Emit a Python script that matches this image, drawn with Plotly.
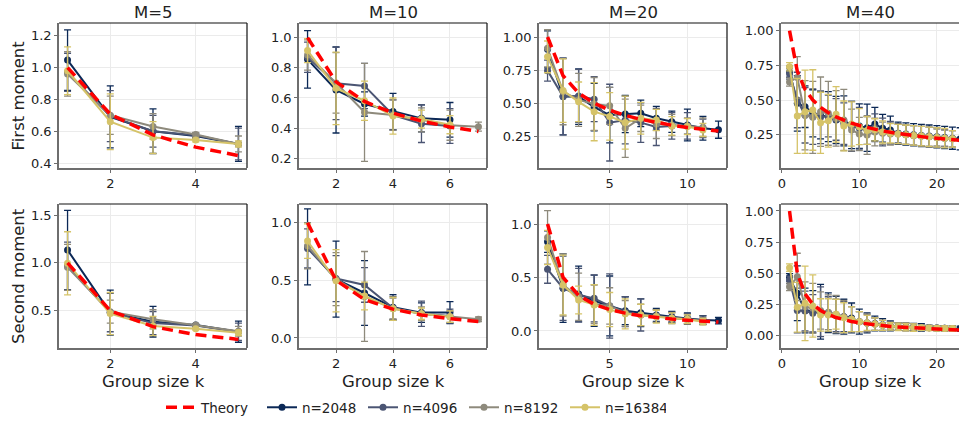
import plotly.graph_objects as go

# ---------------- data ----------------
series_names = ["n=2048", "n=4096", "n=8192", "n=16384"]
series_colors = ["#0b2856", "#4b5573", "#8e8a7c", "#d5c368"]
theory_color = "#ff0000"

# M = 5
k_M5 = [1, 2, 3, 4, 5]
theory1_M5 = [1.0, 0.707, 0.577, 0.5, 0.447]
theory2_M5 = [1.0, 0.5, 0.333, 0.25, 0.2]
first_M5_2048 = [1.047, 0.69, 0.60, 0.57, 0.52]
first_M5_2048_err = [0.19, 0.195, 0.14, 0.015, 0.11]
first_M5_4096 = [0.97, 0.695, 0.60, 0.575, 0.52]
first_M5_4096_err = [0.12, 0.16, 0.10, 0.015, 0.10]
first_M5_8192 = [0.96, 0.70, 0.63, 0.58, 0.52]
first_M5_8192_err = [0.14, 0.12, 0.08, 0.012, 0.05]
first_M5_16384 = [0.98, 0.66, 0.56, 0.545, 0.52]
first_M5_16384_err = [0.15, 0.175, 0.10, 0.012, 0.02]
second_M5_2048 = [1.134, 0.48, 0.385, 0.35, 0.28]
second_M5_2048_err = [0.415, 0.235, 0.16, 0.01, 0.11]
second_M5_4096 = [0.967, 0.48, 0.37, 0.345, 0.28]
second_M5_4096_err = [0.25, 0.20, 0.12, 0.01, 0.09]
second_M5_8192 = [0.953, 0.49, 0.41, 0.35, 0.285]
second_M5_8192_err = [0.24, 0.12, 0.10, 0.01, 0.05]
second_M5_16384 = [0.995, 0.47, 0.34, 0.31, 0.27]
second_M5_16384_err = [0.33, 0.22, 0.10, 0.01, 0.03]

# M = 10
k_M10 = [1, 2, 3, 4, 5, 6, 7]
theory1_M10 = [1.0, 0.707, 0.577, 0.5, 0.447, 0.408, 0.378]
theory2_M10 = [1.0, 0.5, 0.333, 0.25, 0.2, 0.167, 0.143]
first_M10_2048 = [0.856, 0.653, 0.56, 0.51, 0.465, 0.455]
first_M10_2048_err = [0.19, 0.285, 0.08, 0.12, 0.09, 0.115]
first_M10_4096 = [0.87, 0.697, 0.68, 0.487, 0.43, 0.414]
first_M10_4096_err = [0.10, 0.24, 0.15, 0.10, 0.125, 0.115]
first_M10_8192 = [0.885, 0.70, 0.505, 0.487, 0.455, 0.42, 0.41]
first_M10_8192_err = [0.10, 0.20, 0.325, 0.10, 0.08, 0.10, 0.03]
first_M10_16384 = [0.914, 0.664, 0.582, 0.48, 0.46, 0.423]
first_M10_16384_err = [0.08, 0.24, 0.13, 0.12, 0.06, 0.06]
second_M10_2048 = [0.79, 0.51, 0.39, 0.266, 0.22, 0.22]
second_M10_2048_err = [0.33, 0.33, 0.28, 0.11, 0.085, 0.095]
second_M10_4096 = [0.777, 0.515, 0.46, 0.26, 0.21, 0.19]
second_M10_4096_err = [0.17, 0.20, 0.15, 0.10, 0.11, 0.06]
second_M10_8192 = [0.80, 0.51, 0.36, 0.255, 0.21, 0.185, 0.162]
second_M10_8192_err = [0.20, 0.23, 0.39, 0.09, 0.06, 0.05, 0.02]
second_M10_16384 = [0.84, 0.497, 0.364, 0.253, 0.21, 0.185]
second_M10_16384_err = [0.15, 0.27, 0.12, 0.10, 0.05, 0.05]

# M = 20
k_M20 = [1, 2, 3, 4, 5, 6, 7, 8, 9, 10, 11, 12]
theory1_M20 = [1.0, 0.707, 0.577, 0.5, 0.447, 0.408, 0.378, 0.354, 0.333, 0.316, 0.302, 0.289]
theory2_M20 = [1.0, 0.5, 0.333, 0.25, 0.2, 0.167, 0.143, 0.125, 0.111, 0.1, 0.091, 0.083]
first_M20_2048 = [0.907, 0.55, 0.55, 0.47, 0.41, 0.418, 0.423, 0.386, 0.36, 0.335, 0.31, 0.30]
first_M20_2048_err = [0.14, 0.29, 0.21, 0.18, 0.21, 0.14, 0.10, 0.09, 0.08, 0.12, 0.09, 0.065]
first_M20_4096 = [0.746, 0.55, 0.555, 0.53, 0.353, 0.373, 0.353, 0.32, 0.328, 0.328, 0.31]
first_M20_4096_err = [0.08, 0.29, 0.20, 0.17, 0.29, 0.18, 0.15, 0.14, 0.10, 0.10, 0.07]
first_M20_8192 = [0.915, 0.587, 0.525, 0.494, 0.48, 0.31, 0.386, 0.343, 0.335, 0.328, 0.318]
first_M20_8192_err = [0.14, 0.25, 0.20, 0.20, 0.14, 0.22, 0.10, 0.11, 0.08, 0.06, 0.07]
first_M20_16384 = [0.85, 0.595, 0.51, 0.436, 0.40, 0.353, 0.386, 0.373, 0.328, 0.323, 0.298]
first_M20_16384_err = [0.12, 0.24, 0.15, 0.22, 0.18, 0.20, 0.12, 0.08, 0.07, 0.06, 0.05]
second_M20_2048 = [0.835, 0.40, 0.346, 0.283, 0.234, 0.19, 0.17, 0.15, 0.134, 0.118, 0.103, 0.097]
second_M20_2048_err = [0.10, 0.32, 0.26, 0.24, 0.28, 0.13, 0.13, 0.06, 0.05, 0.05, 0.04, 0.03]
second_M20_4096 = [0.576, 0.40, 0.336, 0.305, 0.234, 0.18, 0.15, 0.14, 0.125, 0.112, 0.10]
second_M20_4096_err = [0.13, 0.30, 0.25, 0.22, 0.30, 0.14, 0.15, 0.06, 0.05, 0.05, 0.04]
second_M20_8192 = [0.875, 0.43, 0.32, 0.25, 0.234, 0.165, 0.15, 0.14, 0.12, 0.11, 0.095]
second_M20_8192_err = [0.25, 0.29, 0.22, 0.18, 0.17, 0.12, 0.10, 0.06, 0.05, 0.04, 0.03]
second_M20_16384 = [0.78, 0.43, 0.29, 0.243, 0.20, 0.16, 0.15, 0.134, 0.12, 0.11, 0.087]
second_M20_16384_err = [0.16, 0.28, 0.13, 0.19, 0.16, 0.14, 0.10, 0.06, 0.05, 0.04, 0.03]

# M = 40
k_M40 = [1, 2, 3, 4, 5, 6, 7, 8, 9, 10, 11, 12, 13, 14, 15, 16, 17, 18, 19, 20, 21, 22, 23]
theory1_M40 = [1.0, 0.707, 0.577, 0.5, 0.447, 0.408, 0.378, 0.354, 0.333, 0.316, 0.302, 0.289,
               0.277, 0.267, 0.258, 0.25, 0.243, 0.236, 0.229, 0.224, 0.218, 0.213, 0.209]
theory2_M40 = [1.0, 0.5, 0.333, 0.25, 0.2, 0.167, 0.143, 0.125, 0.111, 0.1, 0.091, 0.083,
               0.077, 0.071, 0.067, 0.063, 0.059, 0.056, 0.053, 0.05, 0.048, 0.045, 0.043]
first_M40_2048 = [0.704, 0.476, 0.452, 0.404, 0.39, 0.38, 0.356, 0.35, 0.32, 0.312, 0.30, 0.327,
                  0.296, 0.284, 0.26, 0.255, 0.25, 0.245, 0.24, 0.235, 0.23, 0.225, 0.22]
first_M40_2048_err = [0.04, 0.20, 0.15, 0.17, 0.17, 0.18, 0.17, 0.18, 0.17, 0.16, 0.17, 0.12,
                      0.10, 0.10, 0.08, 0.08, 0.08, 0.08, 0.08, 0.08, 0.08, 0.08, 0.08]
first_M40_4096 = [0.69, 0.50, 0.39, 0.38, 0.375, 0.385, 0.36, 0.33, 0.31, 0.296, 0.28, 0.30,
                  0.27, 0.265, 0.26, 0.25, 0.245, 0.24, 0.235, 0.23, 0.225, 0.22]
first_M40_4096_err = [0.04, 0.20, 0.20, 0.20, 0.19, 0.15, 0.15, 0.15, 0.18, 0.15, 0.10, 0.10,
                      0.10, 0.08, 0.07, 0.07, 0.07, 0.07, 0.07, 0.07, 0.06, 0.06]
first_M40_8192 = [0.63, 0.663, 0.39, 0.375, 0.416, 0.404, 0.368, 0.356, 0.284, 0.255, 0.248, 0.27,
                  0.26, 0.255, 0.255, 0.25, 0.245, 0.24, 0.235, 0.23, 0.225, 0.22]
first_M40_8192_err = [0.03, 0.15, 0.25, 0.26, 0.25, 0.23, 0.20, 0.22, 0.15, 0.12, 0.14, 0.10,
                      0.08, 0.08, 0.07, 0.07, 0.07, 0.07, 0.07, 0.06, 0.06, 0.06]
first_M40_16384 = [0.74, 0.385, 0.416, 0.428, 0.336, 0.35, 0.397, 0.313, 0.327, 0.308, 0.28, 0.285,
                   0.27, 0.26, 0.255, 0.25, 0.245, 0.24, 0.235, 0.23, 0.225, 0.22]
first_M40_16384_err = [0.03, 0.27, 0.30, 0.29, 0.22, 0.19, 0.20, 0.18, 0.16, 0.13, 0.10, 0.08,
                       0.08, 0.07, 0.07, 0.07, 0.07, 0.07, 0.07, 0.07, 0.07, 0.06]
second_M40_2048 = [0.466, 0.338, 0.20, 0.19, 0.19, 0.182, 0.164, 0.15, 0.14, 0.11, 0.10, 0.095,
                   0.085, 0.075, 0.07, 0.068, 0.065, 0.063, 0.06, 0.058, 0.056, 0.055, 0.053]
second_M40_2048_err = [0.03, 0.22, 0.18, 0.17, 0.22, 0.16, 0.15, 0.14, 0.12, 0.10, 0.08, 0.06,
                       0.05, 0.04, 0.03, 0.03, 0.03, 0.03, 0.02, 0.02, 0.02, 0.02, 0.02]
second_M40_4096 = [0.445, 0.20, 0.196, 0.177, 0.19, 0.17, 0.16, 0.15, 0.13, 0.11, 0.10, 0.09,
                   0.08, 0.075, 0.07, 0.067, 0.064, 0.062, 0.06, 0.058, 0.056, 0.055]
second_M40_4096_err = [0.03, 0.18, 0.16, 0.15, 0.20, 0.14, 0.13, 0.12, 0.10, 0.08, 0.07, 0.05,
                       0.04, 0.03, 0.03, 0.03, 0.03, 0.02, 0.02, 0.02, 0.02, 0.02]
second_M40_8192 = [0.39, 0.47, 0.23, 0.217, 0.20, 0.185, 0.17, 0.15, 0.13, 0.11, 0.10, 0.09,
                   0.08, 0.075, 0.07, 0.067, 0.064, 0.062, 0.06, 0.058, 0.056, 0.055]
second_M40_8192_err = [0.03, 0.19, 0.20, 0.20, 0.15, 0.14, 0.15, 0.13, 0.10, 0.08, 0.07, 0.05,
                       0.04, 0.03, 0.03, 0.03, 0.03, 0.02, 0.02, 0.02, 0.02, 0.02]
second_M40_16384 = [0.544, 0.225, 0.257, 0.236, 0.164, 0.164, 0.17, 0.142, 0.129, 0.11, 0.10, 0.09,
                    0.08, 0.072, 0.068, 0.065, 0.062, 0.06, 0.058, 0.056, 0.055, 0.054]
second_M40_16384_err = [0.03, 0.20, 0.30, 0.25, 0.13, 0.13, 0.12, 0.12, 0.10, 0.08, 0.06, 0.05,
                        0.04, 0.03, 0.03, 0.03, 0.03, 0.02, 0.02, 0.02, 0.02, 0.02]

panel_titles = ["M=5", "M=10", "M=20", "M=40"]
row_labels = ["First moment", "Second moment"]
x_label = "Group size k"

# ---------------- panels ----------------
panels = [
    (0, 0, k_M5, theory1_M5,
     [first_M5_2048, first_M5_4096, first_M5_8192, first_M5_16384],
     [first_M5_2048_err, first_M5_4096_err, first_M5_8192_err, first_M5_16384_err],
     [0.8, 5.2], [2, 4], [0.369, 1.28], [0.4, 0.6, 0.8, 1.0, 1.2], ".1f"),
    (0, 1, k_M10, theory1_M10,
     [first_M10_2048, first_M10_4096, first_M10_8192, first_M10_16384],
     [first_M10_2048_err, first_M10_4096_err, first_M10_8192_err, first_M10_16384_err],
     [0.7, 7.3], [2, 4, 6], [0.136, 1.097], [0.2, 0.4, 0.6, 0.8, 1.0], ".1f"),
    (0, 2, k_M20, theory1_M20,
     [first_M20_2048, first_M20_4096, first_M20_8192, first_M20_16384],
     [first_M20_2048_err, first_M20_4096_err, first_M20_8192_err, first_M20_16384_err],
     [0.45, 12.55], [5, 10], [0.01, 1.106], [0.25, 0.5, 0.75, 1.0], ".2f"),
    (0, 3, k_M40, theory1_M40,
     [first_M40_2048, first_M40_4096, first_M40_8192, first_M40_16384],
     [first_M40_2048_err, first_M40_4096_err, first_M40_8192_err, first_M40_16384_err],
     [-0.1, 22.85], [0, 10, 20], [0.01, 1.055], [0.25, 0.5, 0.75, 1.0], ".2f"),
    (1, 0, k_M5, theory2_M5,
     [second_M5_2048, second_M5_4096, second_M5_8192, second_M5_16384],
     [second_M5_2048_err, second_M5_4096_err, second_M5_8192_err, second_M5_16384_err],
     [0.8, 5.2], [2, 4], [0.11, 1.615], [0.5, 1.0, 1.5], ".1f"),
    (1, 1, k_M10, theory2_M10,
     [second_M10_2048, second_M10_4096, second_M10_8192, second_M10_16384],
     [second_M10_2048_err, second_M10_4096_err, second_M10_8192_err, second_M10_16384_err],
     [0.7, 7.3], [2, 4, 6], [-0.087, 1.162], [0.0, 0.5, 1.0], ".1f"),
    (1, 2, k_M20, theory2_M20,
     [second_M20_2048, second_M20_4096, second_M20_8192, second_M20_16384],
     [second_M20_2048_err, second_M20_4096_err, second_M20_8192_err, second_M20_16384_err],
     [0.45, 12.55], [5, 10], [-0.159, 1.187], [0.0, 0.5, 1.0], ".1f"),
    (1, 3, k_M40, theory2_M40,
     [second_M40_2048, second_M40_4096, second_M40_8192, second_M40_16384],
     [second_M40_2048_err, second_M40_4096_err, second_M40_8192_err, second_M40_16384_err],
     [-0.1, 22.85], [0, 10, 20], [-0.102, 1.056], [0.0, 0.25, 0.5, 0.75, 1.0], ".2f"),
]

W, H = 959, 423
col_px = [(59, 247), (299, 487), (539, 727), (781, 959)]
row_px = [(23, 168), (204, 348)]

FONT = "DejaVu Sans"
TXT = "#222222"
SPINE = "#6e6e6e"

fig = go.Figure()
layout = dict(
    width=W, height=H,
    margin=dict(l=0, r=0, t=0, b=0, autoexpand=False),
    paper_bgcolor="white", plot_bgcolor="white",
    font=dict(family=FONT, size=13, color=TXT),
    showlegend=True,
)
shapes = []
annotations = []

for idx, (r, c, k, theory, ser, errs, xr, xt, yr, yt, yf) in enumerate(panels):
    n = idx + 1
    xa = "x" if n == 1 else f"x{n}"
    ya = "y" if n == 1 else f"y{n}"
    x0, x1 = col_px[c]
    y0, y1 = row_px[r]
    layout[f"xaxis{n}" if n > 1 else "xaxis"] = dict(
        domain=[x0 / W, x1 / W], anchor=ya, range=xr, tickvals=xt,
        showgrid=True, gridcolor="#ebebeb", gridwidth=1, zeroline=False,
        showline=True, linecolor=SPINE, linewidth=1.5, mirror=False,
        ticks="outside", ticklen=3, tickwidth=1, tickcolor=SPINE,
        tickfont=dict(size=13, color=TXT, family=FONT),
    )
    layout[f"yaxis{n}" if n > 1 else "yaxis"] = dict(
        domain=[1 - y1 / H, 1 - y0 / H], anchor=xa, range=yr, tickvals=yt,
        tickformat=yf,
        showgrid=True, gridcolor="#ebebeb", gridwidth=1, zeroline=False,
        showline=True, linecolor=SPINE, linewidth=1.5, mirror=False,
        ticks="outside", ticklen=3, tickwidth=1, tickcolor=SPINE,
        tickfont=dict(size=13, color=TXT, family=FONT),
    )
    shapes.append(dict(type="line", xref=f"{xa} domain", yref=f"{ya} domain",
                       x0=0, x1=1, y0=1, y1=1, line=dict(color="#111111", width=1.2)))
    if c < 3:
        shapes.append(dict(type="line", xref=f"{xa} domain", yref=f"{ya} domain",
                           x0=1, x1=1, y0=0, y1=1, line=dict(color="#111111", width=1.2)))

    for si, (vals, ev) in enumerate(zip(ser, errs)):
        fig.add_trace(go.Scatter(
            x=k[:len(vals)], y=vals, xaxis=xa, yaxis=ya,
            mode="lines+markers", name=series_names[si],
            legendgroup=series_names[si], showlegend=(idx == 0),
            legendrank=2 + si,
            line=dict(color=series_colors[si], width=2),
            marker=dict(color=series_colors[si], size=7),
            error_y=dict(type="data", array=ev, visible=True,
                         color=series_colors[si], thickness=1.3, width=3.5),
        ))
    fig.add_trace(go.Scatter(
        x=k, y=theory, xaxis=xa, yaxis=ya, mode="lines", name="Theory",
        legendgroup="Theory", showlegend=(idx == 0), legendrank=1,
        line=dict(color=theory_color, width=3.5, dash="11px,6px"),
    ))

    if r == 0:
        annotations.append(dict(text=panel_titles[c], xref="paper", yref="paper",
                                x=(x0 + x1) / 2 / W, y=1 - 12 / H, xanchor="center",
                                yanchor="middle", showarrow=False,
                                font=dict(size=16.5, color=TXT, family=FONT)))
    else:
        annotations.append(dict(text=x_label, xref="paper", yref="paper",
                                x=(x0 + x1) / 2 / W, y=1 - 381 / H, xanchor="center",
                                yanchor="middle", showarrow=False,
                                font=dict(size=16.5, color=TXT, family=FONT)))
    if c == 0:
        annotations.append(dict(text=row_labels[r], xref="paper", yref="paper",
                                x=18 / W, y=1 - ((y0 + y1) / 2) / H, xanchor="center",
                                yanchor="middle", textangle=-90, showarrow=False,
                                font=dict(size=16.5, color=TXT, family=FONT)))

layout["shapes"] = shapes
layout["annotations"] = annotations
layout["legend"] = dict(orientation="h", x=161 / W, xanchor="left", y=0.0,
                        yanchor="bottom", font=dict(size=13.5, color=TXT, family=FONT),
                        entrywidth=56, bgcolor="rgba(0,0,0,0)", itemwidth=30,
                        traceorder="normal")
fig.update_layout(**layout)
fig.write_html("out.html")
